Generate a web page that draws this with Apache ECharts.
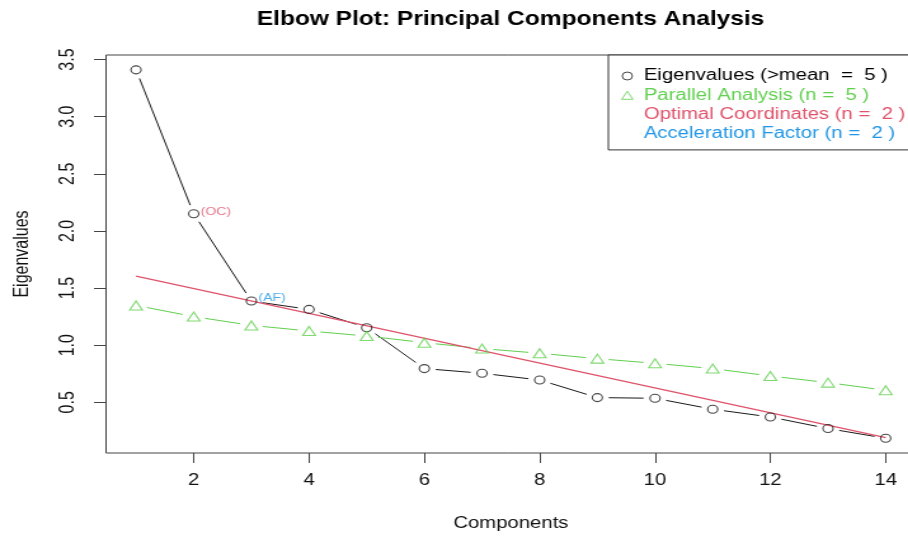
<!DOCTYPE html>
<html><head><meta charset="utf-8">
<script src="https://cdn.jsdelivr.net/npm/echarts@6/dist/echarts.min.js"></script>
<style>
html,body{margin:0;padding:0;background:#fff;overflow:hidden;}
#wrap{width:908px;height:536px;overflow:hidden;position:relative;background:#fff;}
#chart{width:715px;height:536px;transform:scaleX(1.27);transform-origin:0 0;}
</style></head><body><div id="wrap"><div id="chart"></div></div>
<script>
const components = [1,2,3,4,5,6,7,8,9,10,11,12,13,14];
const eigenvalues = [3.41,2.15,1.386,1.313,1.153,0.795,0.754,0.695,0.541,0.535,0.439,0.371,0.27,0.185];
const parallelAnalysis = [1.348,1.25,1.173,1.124,1.08,1.022,0.97,0.929,0.882,0.841,0.795,0.73,0.672,0.605];
const ocFitX = [1,14];
const ocFitY = [1.605,0.191];
const xTicks = [2,4,6,8,10,12,14];
const yTicks = [0.5,1.0,1.5,2.0,2.5,3.0,3.5];
const titleText = 'Elbow Plot: Principal Components Analysis';
const nameEig = 'Eigenvalues (>mean  =  5 )';
const namePA = 'Parallel Analysis (n =  5 )';
const nameOC = 'Optimal Coordinates (n =  2 )';
const nameAF = 'Acceleration Factor (n =  2 )';
const ocIndex = 2, afIndex = 3;

const FONT = '"Liberation Sans", Arial, Helvetica, sans-serif';
const C_BLACK = '#1a1a1a', C_GREEN = '#61D04F', C_RED = '#DF536B', C_BLUE = '#2297E6';

function segData(vals){
  return vals.slice(0,-1).map((v,i)=>[components[i], v, components[i+1], vals[i+1]]);
}
function gapRender(color, gap){
  return function(params, api){
    const p1 = api.coord([api.value(0), api.value(1)]);
    const p2 = api.coord([api.value(2), api.value(3)]);
    const dx = p2[0]-p1[0], dy = p2[1]-p1[1];
    const len = Math.hypot(dx, dy);
    if (len <= 2*gap) return null;
    const ux = dx/len, uy = dy/len;
    return {type:'line', shape:{x1:p1[0]+ux*gap, y1:p1[1]+uy*gap, x2:p2[0]-ux*gap, y2:p2[1]-uy*gap},
            style:{stroke:color, lineWidth:1}};
  };
}

const eigData = components.map((c,i)=>{
  const item = {value:[c, eigenvalues[i]]};
  if (i === ocIndex-1) item.label = {show:true, formatter:'(OC)', color:C_RED};
  if (i === afIndex-1) item.label = {show:true, formatter:'(AF)', color:C_BLUE, offset:[0,-3]};
  return item;
});

const chart = echarts.init(document.getElementById('chart'), null, {renderer:'canvas'});
chart.setOption({
  animation:false,
  backgroundColor:'#fff',
  textStyle:{fontFamily:FONT},
  title:{text:titleText, left:397, textAlign:'center', top:5,
    textStyle:{fontSize:19.3, fontWeight:'bold', color:'#000', fontFamily:FONT}},
  grid:{left:83.5, right:-6, top:55, bottom:83, show:true, borderColor:'#444', borderWidth:1,
    containLabel:false, outerBoundsMode:'none'},
  legend:{
    orient:'vertical', left:479, top:55, padding:[11.35,40,6.35,10], itemGap:0,
    itemWidth:16, itemHeight:8, selectedMode:false, symbolKeepAspect:true,
    borderColor:'#333', borderWidth:1, backgroundColor:'#fff',
    textStyle:{fontSize:16, lineHeight:19.3, fontFamily:FONT, color:'#000'},
    data:[
      {name:nameEig, icon:'circle', itemStyle:{color:'rgba(0,0,0,0)', borderColor:C_BLACK, borderWidth:1}, textStyle:{color:'#000'}},
      {name:namePA, icon:'path://M5,0 L10,9 L0,9 Z', itemStyle:{color:'rgba(0,0,0,0)', borderColor:C_GREEN, borderWidth:1}, textStyle:{color:C_GREEN}},
      {name:nameOC, icon:'circle', itemStyle:{opacity:0}, textStyle:{color:C_RED}},
      {name:nameAF, icon:'circle', itemStyle:{opacity:0}, textStyle:{color:C_BLUE}}
    ]
  },
  xAxis:{type:'value', min:0.48, max:14.52,
    axisLine:{show:false}, splitLine:{show:false},
    axisTick:{show:true, customValues:xTicks, length:10, lineStyle:{color:'#444', width:1}},
    axisLabel:{customValues:xTicks, margin:20, fontSize:16, color:'#111', fontFamily:FONT},
    name:'Components', nameLocation:'middle', nameGap:63,
    nameTextStyle:{fontSize:16, color:'#111', fontFamily:FONT}},
  yAxis:{type:'value', min:0.056, max:3.54,
    axisLine:{show:false}, splitLine:{show:false},
    axisTick:{show:true, customValues:yTicks, length:9.5, lineStyle:{color:'#444', width:1}},
    axisLabel:{customValues:yTicks, rotate:90, margin:22, fontSize:16, color:'#111', fontFamily:FONT,
      formatter:(v)=>Number(v).toFixed(1)},
    name:'Eigenvalues', nameLocation:'middle', nameGap:58, nameRotate:90,
    nameTextStyle:{fontSize:16, color:'#111', fontFamily:FONT}},
  series:[
    {type:'custom', name:'eigSegments', silent:true, renderItem:gapRender(C_BLACK, 9),
      encode:{x:[0,2], y:[1,3]}, data:segData(eigenvalues), z:2},
    {type:'custom', name:'paSegments', silent:true, renderItem:gapRender(C_GREEN, 9),
      encode:{x:[0,2], y:[1,3]}, data:segData(parallelAnalysis), z:2},
    {type:'line', name:nameOC, data:ocFitX.map((x,i)=>[x, ocFitY[i]]), showSymbol:false, symbol:'none',
      lineStyle:{color:C_RED, width:1.2}, itemStyle:{color:C_RED}, silent:true, z:3},
    {type:'scatter', name:nameEig, data:eigData, symbol:'circle', symbolSize:8, silent:true, z:4,
      itemStyle:{color:'rgba(0,0,0,0)', borderColor:C_BLACK, borderWidth:1.1},
      label:{show:false, position:'right', distance:1, fontSize:11, fontFamily:FONT, offset:[0,-2]}},
    {type:'scatter', name:namePA, data:components.map((c,i)=>[c, parallelAnalysis[i]]), symbol:'triangle',
      symbolSize:[10,9], silent:true, z:4,
      itemStyle:{color:'rgba(0,0,0,0)', borderColor:C_GREEN, borderWidth:1.1}},
    {type:'scatter', name:nameAF, data:[], itemStyle:{color:C_BLUE}}
  ]
});
</script></body></html>
